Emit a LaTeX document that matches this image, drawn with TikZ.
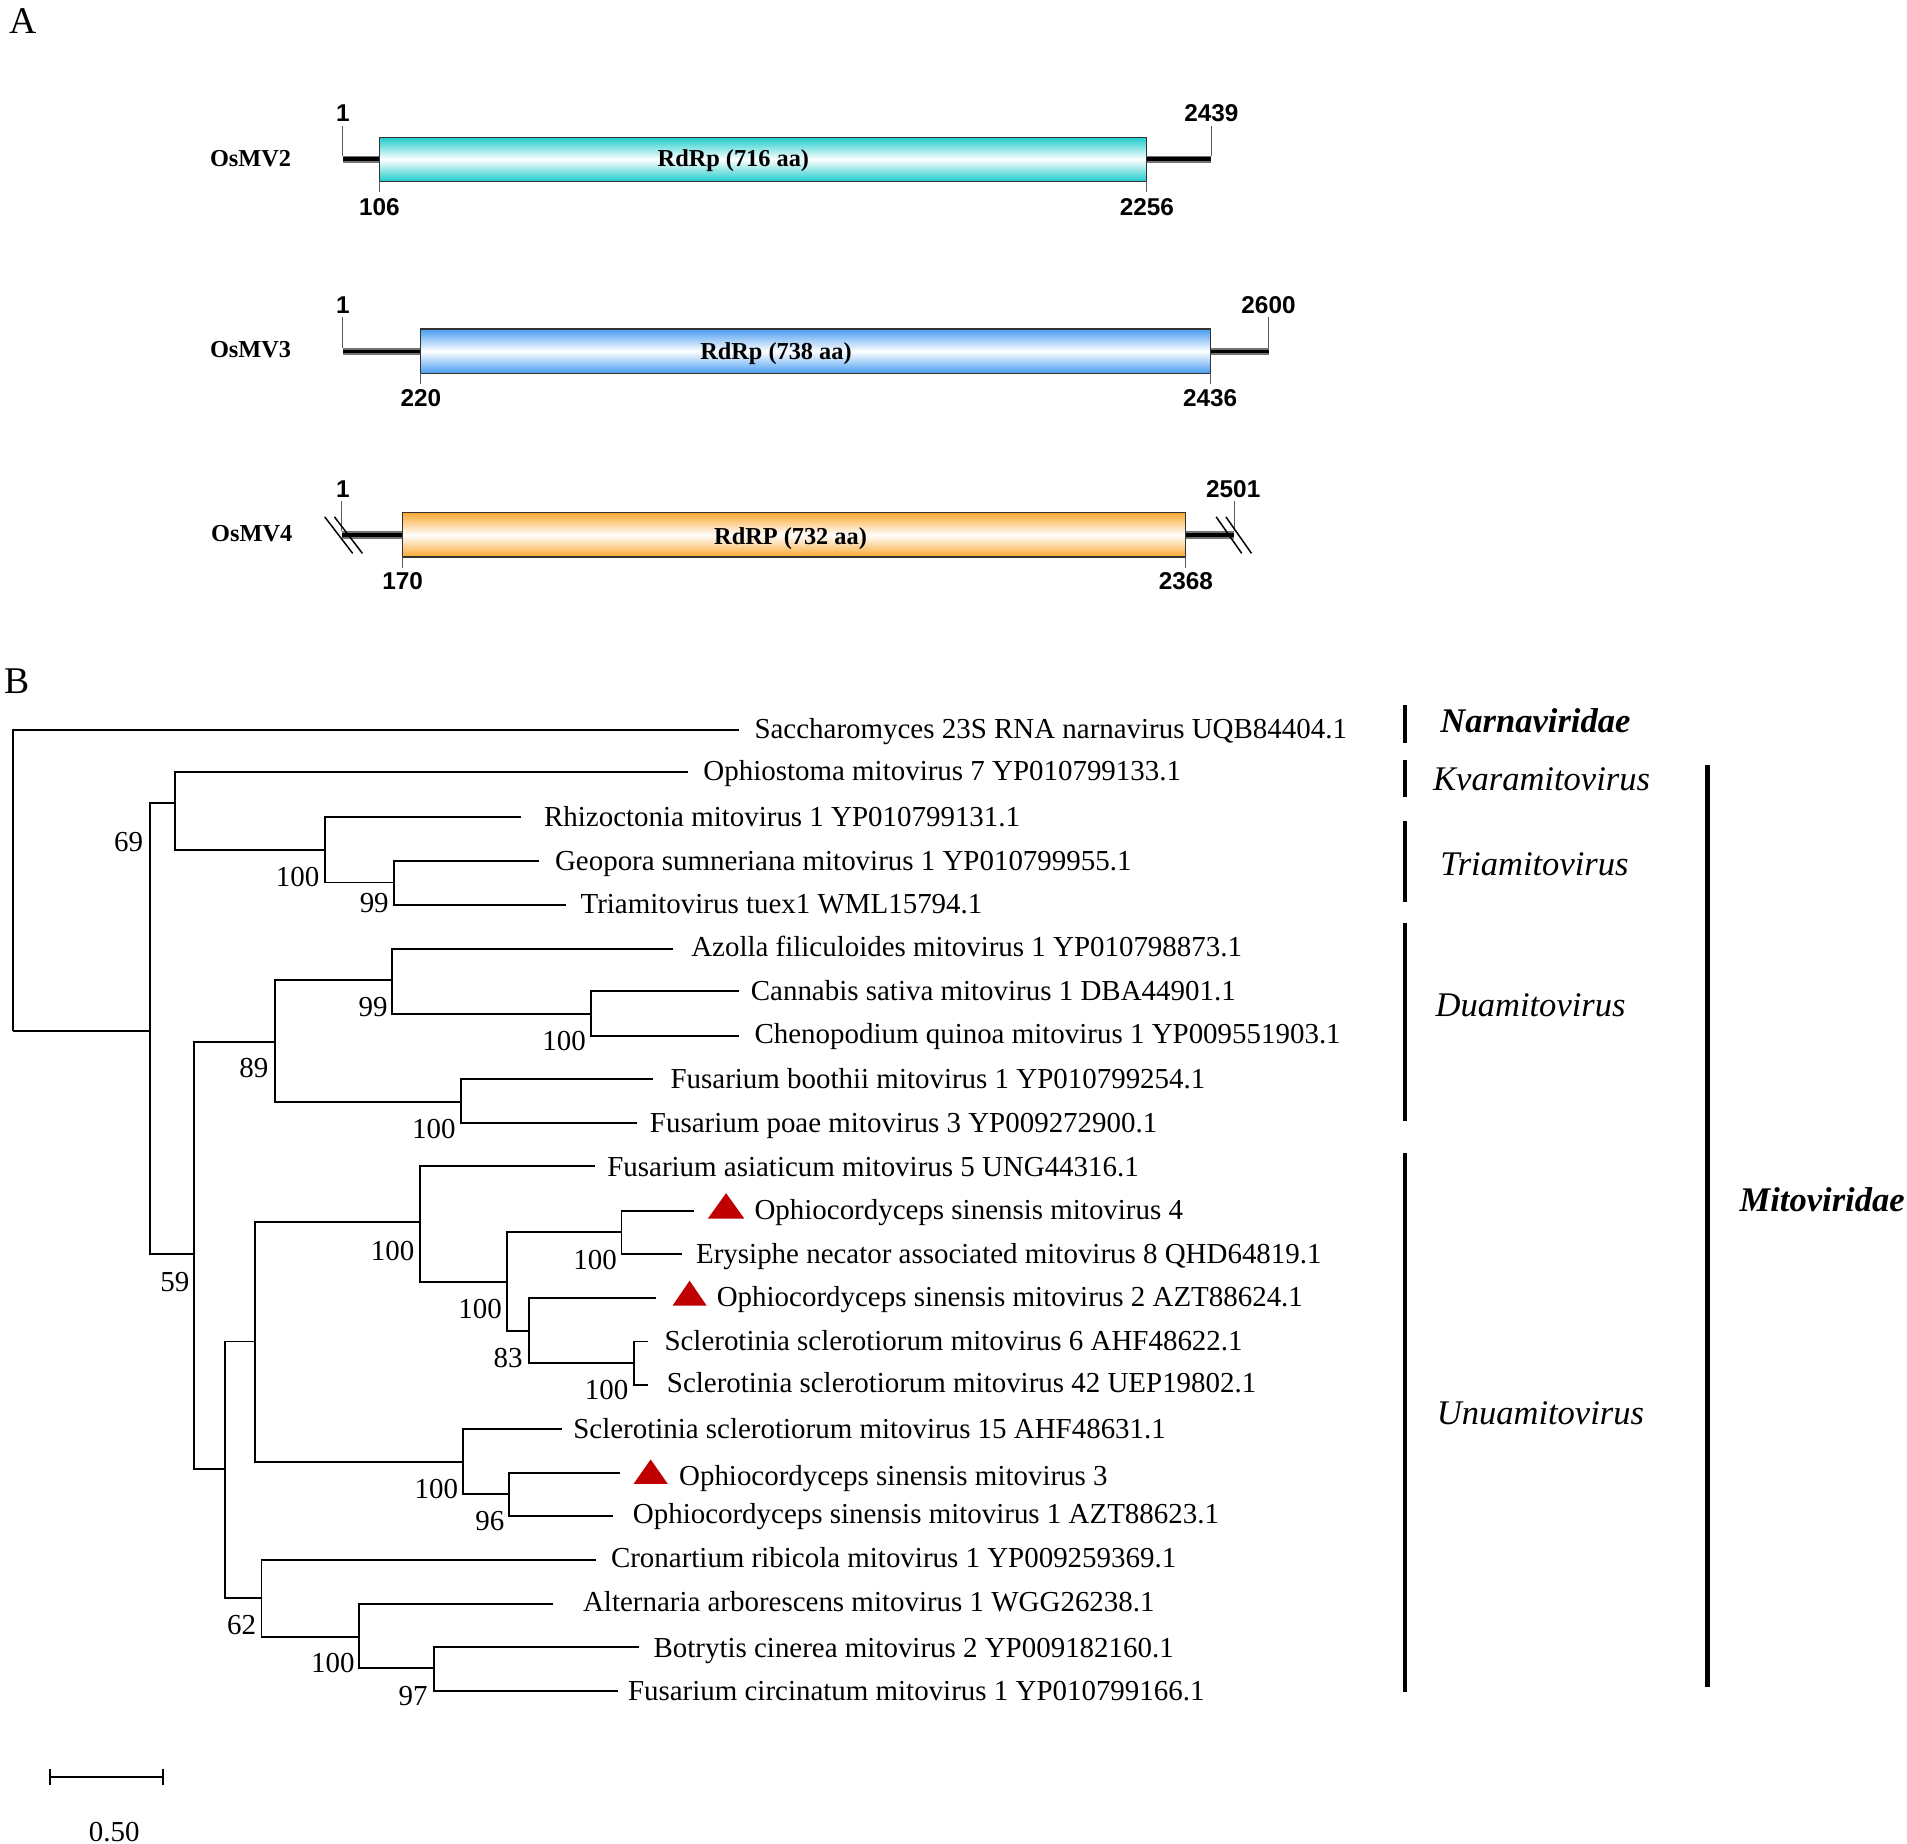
\documentclass[tikz,border=0pt]{standalone}
\usepackage{fontspec}
\setmainfont{Liberation Serif}
\newfontfamily\sansfam{Liberation Sans}
\definecolor{cyanbox}{RGB}{32,204,204}
\definecolor{bluebox}{RGB}{72,156,240}
\definecolor{orangebox}{RGB}{250,168,48}
\definecolor{trired}{RGB}{192,0,0}
\begin{document}
\begin{tikzpicture}[x=0.5pt,y=-0.5pt,
  branch/.style={line width=0.8pt,black},
  leaflabel/.style={anchor=base west,inner sep=0pt,font=\fontsize{11.9}{14}\selectfont},
  boot/.style={anchor=base east,inner sep=0pt,font=\fontsize{11.9}{14}\selectfont},
  cladelab/.style={anchor=base west,inner sep=0pt,font=\fontsize{14.2}{17}\selectfont\itshape},
  cladebar/.style={line width=1.75pt,black},
  numlab/.style={inner sep=0pt,font=\sansfam\bfseries\fontsize{10}{12}\selectfont},
  gname/.style={anchor=base,inner sep=0pt,font=\bfseries\fontsize{10}{12}\selectfont},
  tickline/.style={line width=0.4pt,black!65},
  boxline/.style={line width=0.5pt,black!80},
  panel/.style={inner sep=0pt,font=\fontsize{15.5}{18}\selectfont},
  trimark/.style={fill=trired}
]
\useasboundingbox (0,0) rectangle (1568,1516);

% ---------- Panel labels ----------
\node[panel] (pA) at (19,17) {A};
\node[panel] (pB) at (14,560) {B};

% ---------- Panel A: genomes ----------
% OsMV2
\draw[tickline] (282,104) -- (282,128);
\draw[tickline] (996,104) -- (996,128);
\draw[line width=3pt,black!55] (282,131) -- (996,131);
\draw[line width=1.6pt,black] (282,131) -- (996,131);
\shade[top color=cyanbox,bottom color=cyanbox,middle color=white] (312,113) rectangle (943,149);
\draw[boxline] (312,113) rectangle (943,149);
\draw[tickline] (312,149) -- (312,158);
\draw[tickline] (943,149) -- (943,158);
\node[gname] (n2) at (206,137) {OsMV2};
\node[gname] (r2) at (603,137) {RdRp (716 aa)};
\node[numlab] (a2) at (282,93) {1};
\node[numlab] (b2) at (996,93) {2439};
\node[numlab] (c2) at (312,170) {106};
\node[numlab] (d2) at (943,170) {2256};

% OsMV3
\draw[tickline] (282,261) -- (282,286);
\draw[tickline] (1043,261) -- (1043,286);
\draw[line width=3pt,black!55] (282,289) -- (1043,289);
\draw[line width=1.6pt,black] (282,289) -- (1043,289);
\shade[top color=bluebox,bottom color=bluebox,middle color=white] (346,270.5) rectangle (995,307);
\draw[boxline] (346,270.5) rectangle (995,307);
\draw[tickline] (346,307) -- (346,316);
\draw[tickline] (995,307) -- (995,316);
\node[gname] (n3) at (206,294) {OsMV3};
\node[gname] (r3) at (638,295.5) {RdRp (738 aa)};
\node[numlab] (a3) at (282,251) {1};
\node[numlab] (b3) at (1043,251) {2600};
\node[numlab] (c3) at (346,327) {220};
\node[numlab] (d3) at (995,327) {2436};

% OsMV4
\draw[tickline] (281,412) -- (281,437);
\draw[tickline] (1015,412) -- (1015,437);
\draw[line width=3pt,black!55] (281,440) -- (1015,440);
\draw[line width=1.6pt,black] (281,440) -- (1015,440);
\shade[top color=orangebox,bottom color=orangebox,middle color=white] (331,421.5) rectangle (975,458);
\draw[boxline] (331,421.5) rectangle (975,458);
\draw[tickline] (331,458) -- (331,467);
\draw[tickline] (975,458) -- (975,467);
\draw[line width=0.6pt] (267,425) -- (290,455);
\draw[line width=0.6pt] (275,425) -- (298,455);
\draw[line width=0.6pt] (1000,425) -- (1021,455);
\draw[line width=0.6pt] (1008,425) -- (1029,455);
\node[gname] (n4) at (207,445) {OsMV4};
\node[gname] (r4) at (650,447.5) {RdRP (732 aa)};
\node[numlab] (a4) at (282,402) {1};
\node[numlab] (b4) at (1014,402) {2501};
\node[numlab] (c4) at (331,478) {170};
\node[numlab] (d4) at (975,478) {2368};

% ---------- Panel B: tree ----------
% internal nodes (x, y of incoming branch)
\coordinate (R) at (11,848);
\coordinate (N59) at (123,848);
\coordinate (N69) at (144,660);
\coordinate (N267) at (267,699);
\coordinate (N324) at (324,725.6);
\coordinate (N159) at (159.5,1031);
\coordinate (N226) at (226,856.5);
\coordinate (N322) at (322,806);
\coordinate (N486) at (486,834);
\coordinate (N379) at (379,906);
\coordinate (N185) at (185,1208);
\coordinate (N210) at (210,1103);
\coordinate (N345) at (345,1005);
\coordinate (N417) at (417,1054);
\coordinate (N511) at (511,1013);
\coordinate (N435) at (435,1094);
\coordinate (N521) at (521,1120.5);
\coordinate (N381) at (381,1202);
\coordinate (N418) at (418.5,1228.5);
\coordinate (N215) at (215,1314);
\coordinate (N295) at (295,1346);
\coordinate (N357) at (357,1371.6);
% leaf ends
\coordinate (L1) at (608,600);
\coordinate (L2) at (566,635);
\coordinate (L3) at (428,672);
\coordinate (L4) at (443,708);
\coordinate (L5) at (465,744);
\coordinate (L6) at (553,780);
\coordinate (L7) at (608,815);
\coordinate (L8) at (608,851.5);
\coordinate (L9) at (537,887);
\coordinate (L10) at (524,923);
\coordinate (L11) at (489,959);
\coordinate (L12) at (571,995.5);
\coordinate (L13) at (561,1031);
\coordinate (L14) at (539,1067);
\coordinate (L15) at (533,1103);
\coordinate (L16) at (533,1139);
\coordinate (L17) at (462,1175);
\coordinate (L18) at (510,1211);
\coordinate (L19) at (504,1246.5);
\coordinate (L20) at (490,1283);
\coordinate (L21) at (455,1319);
\coordinate (L22) at (525,1354);
\coordinate (L23) at (508,1390.5);

\draw[branch] (R) |- (L1);  \draw[branch] (R) |- (N59);
\draw[branch] (N59) |- (N69); \draw[branch] (N59) |- (N159);
\draw[branch] (N69) |- (L2); \draw[branch] (N69) |- (N267);
\draw[branch] (N267) |- (L3); \draw[branch] (N267) |- (N324);
\draw[branch] (N324) |- (L4); \draw[branch] (N324) |- (L5);
\draw[branch] (N159) |- (N226); \draw[branch] (N159) |- (N185);
\draw[branch] (N226) |- (N322); \draw[branch] (N226) |- (N379);
\draw[branch] (N322) |- (L6); \draw[branch] (N322) |- (N486);
\draw[branch] (N486) |- (L7); \draw[branch] (N486) |- (L8);
\draw[branch] (N379) |- (L9); \draw[branch] (N379) |- (L10);
\draw[branch] (N185) |- (N210); \draw[branch] (N185) |- (N215);
\draw[branch] (N210) |- (N345); \draw[branch] (N210) |- (N381);
\draw[branch] (N345) |- (L11); \draw[branch] (N345) |- (N417);
\draw[branch] (N417) |- (N511); \draw[branch] (N417) |- (N435);
\draw[branch] (N511) |- (L12); \draw[branch] (N511) |- (L13);
\draw[branch] (N435) |- (L14); \draw[branch] (N435) |- (N521);
\draw[branch] (N521) |- (L15); \draw[branch] (N521) |- (L16);
\draw[branch] (N381) |- (L17); \draw[branch] (N381) |- (N418);
\draw[branch] (N418) |- (L18); \draw[branch] (N418) |- (L19);
\draw[branch] (N215) |- (L20); \draw[branch] (N215) |- (N295);
\draw[branch] (N295) |- (L21); \draw[branch] (N295) |- (N357);
\draw[branch] (N357) |- (L22); \draw[branch] (N357) |- (L23);

% leaf labels
\node[leaflabel] (t1) at (620,607.5) {Saccharomyces 23S RNA narnavirus UQB84404.1};
\node[leaflabel] (t2) at (578,642) {Ophiostoma mitovirus 7 YP010799133.1};
\node[leaflabel] (t3) at (447,679.5) {Rhizoctonia mitovirus 1 YP010799131.1};
\node[leaflabel] (t4) at (456,715.5) {Geopora sumneriana mitovirus 1 YP010799955.1};
\node[leaflabel] (t5) at (477,751.5) {Triamitovirus tuex1 WML15794.1};
\node[leaflabel] (t6) at (568,786.5) {Azolla filiculoides mitovirus 1 YP010798873.1};
\node[leaflabel] (t7) at (617,822.5) {Cannabis sativa mitovirus 1 DBA44901.1};
\node[leaflabel] (t8) at (620,858) {Chenopodium quinoa mitovirus 1 YP009551903.1};
\node[leaflabel] (t9) at (551,895) {Fusarium boothii mitovirus 1 YP010799254.1};
\node[leaflabel] (t10) at (534,931) {Fusarium poae mitovirus 3 YP009272900.1};
\node[leaflabel] (t11) at (499,967.5) {Fusarium asiaticum mitovirus 5 UNG44316.1};
\node[leaflabel] (t12) at (620,1003) {Ophiocordyceps sinensis mitovirus 4};
\node[leaflabel] (t13) at (572,1038.5) {Erysiphe necator associated mitovirus 8 QHD64819.1};
\node[leaflabel] (t14) at (589,1074.5) {Ophiocordyceps sinensis mitovirus 2 AZT88624.1};
\node[leaflabel] (t15) at (546,1110.5) {Sclerotinia sclerotiorum mitovirus 6 AHF48622.1};
\node[leaflabel] (t16) at (548,1145) {Sclerotinia sclerotiorum mitovirus 42 UEP19802.1};
\node[leaflabel] (t17) at (471,1183) {Sclerotinia sclerotiorum mitovirus 15 AHF48631.1};
\node[leaflabel] (t18) at (558,1221) {Ophiocordyceps sinensis mitovirus 3};
\node[leaflabel] (t19) at (520,1253) {Ophiocordyceps sinensis mitovirus 1 AZT88623.1};
\node[leaflabel] (t20) at (502,1289) {Cronartium ribicola mitovirus 1 YP009259369.1};
\node[leaflabel] (t21) at (479,1325) {Alternaria arborescens mitovirus 1 WGG26238.1};
\node[leaflabel] (t22) at (537,1362.5) {Botrytis cinerea mitovirus 2 YP009182160.1};
\node[leaflabel] (t23) at (516,1398.5) {Fusarium circinatum mitovirus 1 YP010799166.1};

% red triangles
\fill[trimark] (582,1002) -- (612,1002) -- (597,981) -- cycle;
\fill[trimark] (553,1073.5) -- (581,1073.5) -- (567,1053) -- cycle;
\fill[trimark] (521,1220) -- (549,1220) -- (535,1200) -- cycle;

% bootstrap values
\node[boot] (b69) at (118,700) {69};
\node[boot] (b267) at (263,729) {100};
\node[boot] (b324) at (320,750) {99};
\node[boot] (b322) at (319,836) {99};
\node[boot] (b486) at (482,864) {100};
\node[boot] (b226) at (221,886) {89};
\node[boot] (b379) at (375,936) {100};
\node[boot] (b345) at (341,1036) {100};
\node[boot] (b511) at (507.5,1043.5) {100};
\node[boot] (b159) at (156,1062) {59};
\node[boot] (b417) at (413,1084) {100};
\node[boot] (b435) at (430,1124.5) {83};
\node[boot] (b521) at (517,1151) {100};
\node[boot] (b381) at (377,1232) {100};
\node[boot] (b418) at (415,1258) {96};
\node[boot] (b215) at (211,1344) {62};
\node[boot] (b295) at (292,1375) {100};
\node[boot] (b357) at (352,1402) {97};

% clade bars and names
\draw[cladebar] (1155,580) -- (1155,611);
\draw[cladebar] (1155,625) -- (1155,655);
\draw[cladebar] (1155,675) -- (1155,742);
\draw[cladebar] (1155,759) -- (1155,922);
\draw[cladebar] (1155,948) -- (1155,1391);
\draw[cladebar] (1404,629) -- (1404,1387);
\node[cladelab,font=\fontsize{14.2}{17}\selectfont\bfseries\itshape] (cN) at (1184,602) {Narnaviridae};
\node[cladelab] (cK) at (1178,650) {Kvaramitovirus};
\node[cladelab] (cT) at (1184,720) {Triamitovirus};
\node[cladelab] (cD) at (1180,836) {Duamitovirus};
\node[cladelab] (cU) at (1181,1171) {Unuamitovirus};
\node[cladelab,font=\fontsize{14.2}{17}\selectfont\bfseries\itshape] (cM) at (1430,996) {Mitoviridae};

% scale bar
\coordinate (s1) at (41,1461);
\coordinate (s2) at (134,1461);
\draw[line width=0.8pt] (s1) -- (s2);
\draw[line width=0.8pt] (41,1454.5) -- (41,1467.5);
\draw[line width=0.8pt] (134,1454.5) -- (134,1467.5);
\node[inner sep=0pt,font=\fontsize{11.9}{14}\selectfont] (sl) at (94,1506) {0.50};
\end{tikzpicture}
\end{document}
